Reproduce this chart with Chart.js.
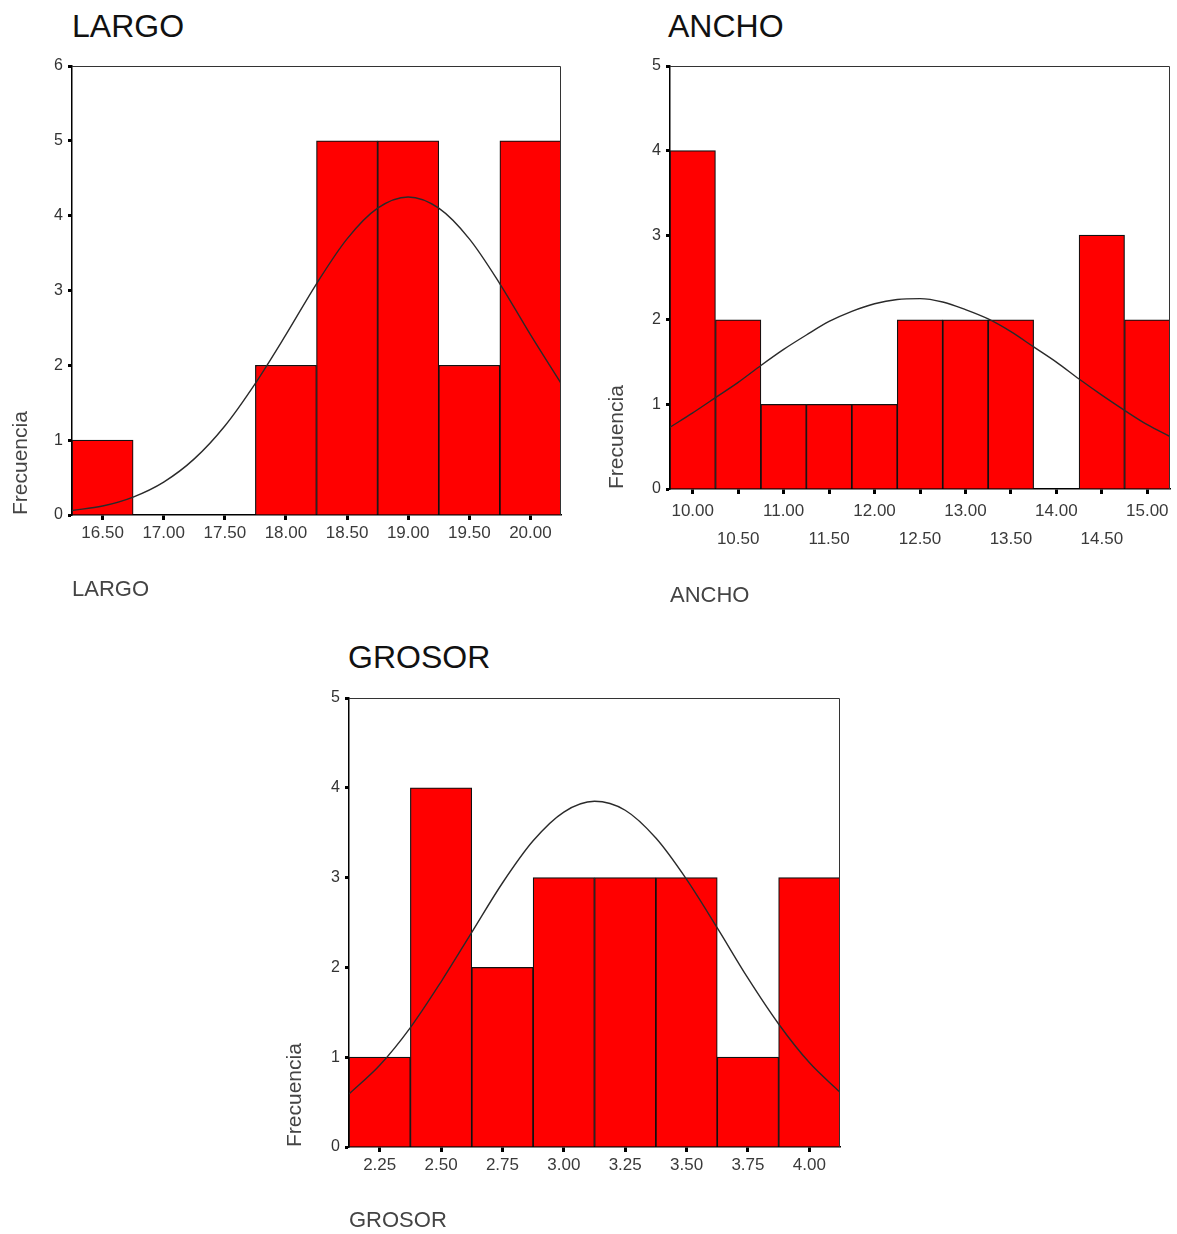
<!DOCTYPE html>
<html>
<head>
<meta charset="utf-8">
<script src="https://cdn.jsdelivr.net/npm/chart.js@4.4.1/dist/chart.umd.min.js"></script>
<style>
  html, body { margin: 0; padding: 0; background: #fff; }
  body { width: 1177px; height: 1234px; position: relative; overflow: hidden;
         font-family: "Liberation Sans", Arial, sans-serif; }
  .ttl { position: absolute; font-size: 32px; line-height: 32px; color: #111; }
  .box { position: absolute; }
  canvas { display: block; }
</style>
</head>
<body>
<div class="ttl" style="left:72px; top:10px;">LARGO</div>
<div class="ttl" style="left:668px; top:10px;">ANCHO</div>
<div class="ttl" style="left:348px; top:641px;">GROSOR</div>

<div class="box" style="left:0px; top:50px; width:580px; height:560px;"><canvas id="cLargo"></canvas></div>
<div class="box" style="left:590px; top:50px; width:587px; height:560px;"><canvas id="cAncho"></canvas></div>
<div class="box" style="left:270px; top:630px; width:590px; height:604px;"><canvas id="cGrosor"></canvas></div>

<script>
// ---- LARGO ----
const largoBins = ['16.50', '17.00', '17.50', '18.00', '18.50', '19.00', '19.50', '20.00'];
const largoFreq = [1, 0, 0, 2, 5, 5, 2, 5];
const largoCurveX = [16.25, 16.5, 16.75, 17.0, 17.25, 17.5, 17.75, 18.0, 18.25, 18.5, 18.75, 19.0, 19.25, 19.5, 19.75, 20.0, 20.25];
const largoCurveY = [0.06, 0.12, 0.24, 0.44, 0.75, 1.19, 1.76, 2.41, 3.09, 3.69, 4.10, 4.25, 4.10, 3.69, 3.09, 2.41, 1.76];

// ---- ANCHO ----
const anchoBins = ['10.00', '10.50', '11.00', '11.50', '12.00', '12.50', '13.00', '13.50', '14.00', '14.50', '15.00'];
const anchoFreq = [4, 2, 1, 1, 1, 2, 2, 2, 0, 3, 2];
const anchoCurveX = [9.75, 10.0, 10.25, 10.5, 10.75, 11.0, 11.25, 11.5, 11.75, 12.0, 12.25, 12.5, 12.75, 13.0, 13.25, 13.5, 13.75, 14.0, 14.25, 14.5, 14.75, 15.0, 15.25];
const anchoCurveY = [0.73, 0.90, 1.08, 1.26, 1.46, 1.65, 1.82, 1.98, 2.10, 2.19, 2.24, 2.25, 2.21, 2.12, 2.01, 1.86, 1.68, 1.50, 1.30, 1.11, 0.93, 0.76, 0.62];

// ---- GROSOR ----
const grosorBins = ['2.25', '2.50', '2.75', '3.00', '3.25', '3.50', '3.75', '4.00'];
const grosorFreq = [1, 4, 2, 3, 3, 3, 1, 3];
const grosorCurveX = [2.125, 2.25, 2.375, 2.5, 2.625, 2.75, 2.875, 3.0, 3.125, 3.25, 3.375, 3.5, 3.625, 3.75, 3.875, 4.0, 4.125];
const grosorCurveY = [0.59, 0.91, 1.33, 1.84, 2.39, 2.94, 3.41, 3.73, 3.85, 3.75, 3.44, 2.98, 2.44, 1.88, 1.37, 0.94, 0.61];

const FONT = '"Liberation Sans", Arial, sans-serif';

// top and right edges of the plot frame
const framePlugin = {
  id: 'frame',
  afterDraw(chart) {
    const { ctx, chartArea: a } = chart;
    ctx.save();
    ctx.strokeStyle = '#333';
    ctx.lineWidth = 1;
    ctx.beginPath();
    ctx.moveTo(a.left, Math.round(a.top) + 0.5);
    ctx.lineTo(Math.round(a.right) - 0.5, Math.round(a.top) + 0.5);
    ctx.lineTo(Math.round(a.right) - 0.5, a.bottom);
    ctx.stroke();
    ctx.restore();
  }
};

function histogram(canvasId, cfg) {
  const curve = cfg.curveX.map((x, i) => ({ x: x, y: cfg.curveY[i] }));
  return new Chart(document.getElementById(canvasId), {
    type: 'bar',
    data: {
      labels: cfg.bins,
      datasets: [
        {
          type: 'line',
          data: curve,
          xAxisID: 'xc',
          yAxisID: 'y',
          borderColor: '#2a2a2a',
          borderWidth: 1.4,
          pointRadius: 0,
          tension: 0.4,
          cubicInterpolationMode: 'monotone',
          fill: false,
          order: 0
        },
        {
          type: 'bar',
          data: cfg.freq,
          xAxisID: 'x',
          yAxisID: 'y',
          backgroundColor: '#ff0000',
          borderColor: '#111',
          borderWidth: 1.2,
          barPercentage: 1,
          categoryPercentage: 1,
          grouped: false,
          order: 1
        }
      ]
    },
    options: {
      responsive: true,
      maintainAspectRatio: false,
      animation: false,
      events: [],
      layout: { padding: cfg.padding },
      plugins: { legend: { display: false }, tooltip: { enabled: false } },
      scales: {
        x: {
          type: 'category',
          offset: true,
          grid: { display: true, drawOnChartArea: false, offset: false, tickLength: 5, tickWidth: 3, color: '#000' },
          border: { display: true, color: '#000', width: 1.5 },
          ticks: {
            autoSkip: false, maxRotation: 0, minRotation: 0, padding: 3,
            color: '#3a3a3a', font: { family: FONT, size: 17, lineHeight: cfg.tickLineHeight || 1.2 },
            callback: cfg.xTickCallback || function (v, i) { return cfg.bins[i]; }
          },
          title: {
            display: true, text: cfg.xTitle, align: 'start', color: '#444',
            font: { family: FONT, size: 22 }, padding: { top: 0, bottom: cfg.xTitlePad }
          },
          afterFit: (s) => { s.height = cfg.xHeight; }
        },
        xc: {
          type: 'linear',
          display: false,
          offset: false,
          grid: { offset: false },
          bounds: 'data',
          min: cfg.curveX[0],
          max: cfg.curveX[cfg.curveX.length - 1]
        },
        y: {
          type: 'linear',
          min: 0,
          max: cfg.yMax,
          ticks: { stepSize: 1, padding: 5, color: '#333', font: { family: FONT, size: 16 } },
          grid: { display: true, drawOnChartArea: false, tickLength: 4, tickWidth: 3, color: '#000' },
          border: { display: true, color: '#000', width: 1.5 },
          title: {
            display: true, text: 'Frecuencia', align: 'start', color: '#444',
            font: { family: FONT, size: 21 }, padding: { top: cfg.yTitlePad, bottom: 0 }
          },
          afterFit: (s) => { s.width = cfg.yWidth; }
        }
      }
    },
    plugins: [framePlugin]
  });
}

histogram('cLargo', {
  bins: largoBins, freq: largoFreq, curveX: largoCurveX, curveY: largoCurveY,
  yMax: 6, xTitle: 'LARGO',
  padding: { top: 16, right: 19, left: 0, bottom: 0 },
  yWidth: 72, xHeight: 95, xTitlePad: 7, yTitlePad: 9
});

histogram('cAncho', {
  bins: anchoBins, freq: anchoFreq, curveX: anchoCurveX, curveY: anchoCurveY,
  yMax: 5, xTitle: 'ANCHO',
  padding: { top: 16, right: 7, left: 0, bottom: 0 },
  yWidth: 80, xHeight: 121, xTitlePad: 1, yTitlePad: 15,
  tickLineHeight: 1.65,
  // whole values on the first row, half values on the second
  xTickCallback: function (v, i) { return i % 2 === 0 ? [anchoBins[i], ''] : ['', anchoBins[i]]; }
});

histogram('cGrosor', {
  bins: grosorBins, freq: grosorFreq, curveX: grosorCurveX, curveY: grosorCurveY,
  yMax: 5, xTitle: 'GROSOR',
  padding: { top: 68, right: 20, left: 0, bottom: 0 },
  yWidth: 79, xHeight: 87, xTitlePad: 0, yTitlePad: 13
});
</script>
</body>
</html>
